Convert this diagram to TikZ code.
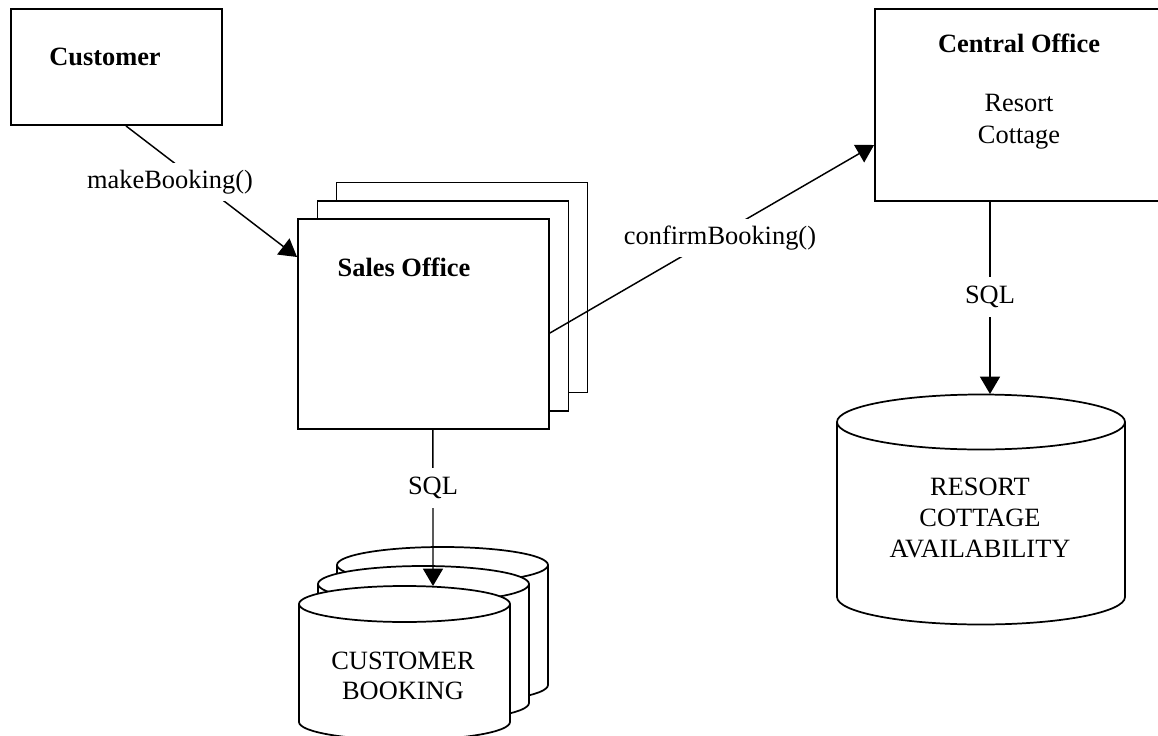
\documentclass[tikz,border=0pt]{standalone}
\usepackage{fontspec}
\setmainfont{Liberation Serif}
\usetikzlibrary{arrows.meta,calc}

% cylinder: centre x, top-ellipse y, bottom-ellipse y, x radius, y radius
\newcommand\storecyl[5]{%
  \path[drum] (#1-#4,#2) -- (#1-#4,#3)
    arc[start angle=180,end angle=0,x radius=#4,y radius=#5]
    -- (#1+#4,#2)
    arc[start angle=0,end angle=-180,x radius=#4,y radius=#5] -- cycle;
  \draw[drum,fill=none] (#1-#4,#2)
    arc[start angle=180,end angle=0,x radius=#4,y radius=#5];}

\begin{document}
\begin{tikzpicture}[x=0.75pt,y=-0.75pt,
  every node/.style={font=\fontsize{19.8}{23}\selectfont},
  frame/.style={draw,line width=1.4pt,fill=white,inner sep=0pt},
  drum/.style={draw,line width=1.3pt,fill=white},
  title/.style={font=\fontsize{19.8}{23}\selectfont\bfseries},
  link/.style={line width=1.1pt},
  flow/.style={link,-{Triangle[length=13pt,width=15pt]}},
  tag/.style={fill=white,inner sep=5pt},
  sqltag/.style={fill=white,inner xsep=3pt,inner ysep=7pt}]
\useasboundingbox (0,0) rectangle (1158,736);

% Customer
\node[frame,minimum width=158.25pt,minimum height=87pt] (customer) at (116.5,67) {};
\node[title] (customerTitle) at (105,57) {Customer};

% Sales Office (multiple instances)
\node[frame,minimum width=188.25pt,minimum height=157.5pt] (salesBack) at (462,287.5) {};
\node[frame,minimum width=188.25pt,minimum height=157.5pt] (salesMid) at (443,306) {};
\node[frame,minimum width=188.25pt,minimum height=157.5pt] (sales) at (423.5,324) {};
\node[title] (salesTitle) at (404,267) {Sales Office};

% Central Office
\node[frame,minimum width=217.5pt,minimum height=144pt] (central) at (1020,105) {};
\node[title] (centralTitle) at (1019,43) {Central Office};
\node[align=center,font=\fontsize{19.8}{24}\selectfont] (centralText) at (1019,122) {Resort\\Cottage};

% Customer booking databases (stacked)
\storecyl{442.5}{565}{685}{105.5}{18}
\storecyl{423.5}{584}{703}{105.5}{18}
\storecyl{404.5}{604}{722}{105.5}{18}
\coordinate (bookingTop) at (433,586);
\node[align=center,font=\fontsize{19.8}{22.5}\selectfont] (bookingText) at (403,676) {CUSTOMER\\BOOKING};

% Resort cottage availability database
\storecyl{981}{422}{597}{144}{27.5}
\coordinate (resortTop) at (990,394);
\node[align=center,font=\fontsize{19.8}{23}\selectfont] (resortText) at (980,518) {RESORT\\COTTAGE\\AVAILABILITY};

% Connectors
\draw[flow] ([xshift=7.1pt]customer.south) -- ([yshift=50.25pt]sales.west);
\draw[flow] ([yshift=-6.75pt]sales.east) -- ([yshift=-30pt]central.west);
\draw[flow] ([xshift=7.1pt]sales.south) -- (bookingTop);
\draw[flow] ([xshift=-22.5pt]central.south) -- (resortTop);

% Connector labels
\node[tag] (makeLbl) at (170,182) {makeBooking()};
\node[tag] (confirmLbl) at (720,238) {confirmBooking()};
\node[sqltag] (sqlSales) at (433,488) {SQL};
\node[sqltag] (sqlCentral) at (990,297) {SQL};
\end{tikzpicture}
\end{document}
